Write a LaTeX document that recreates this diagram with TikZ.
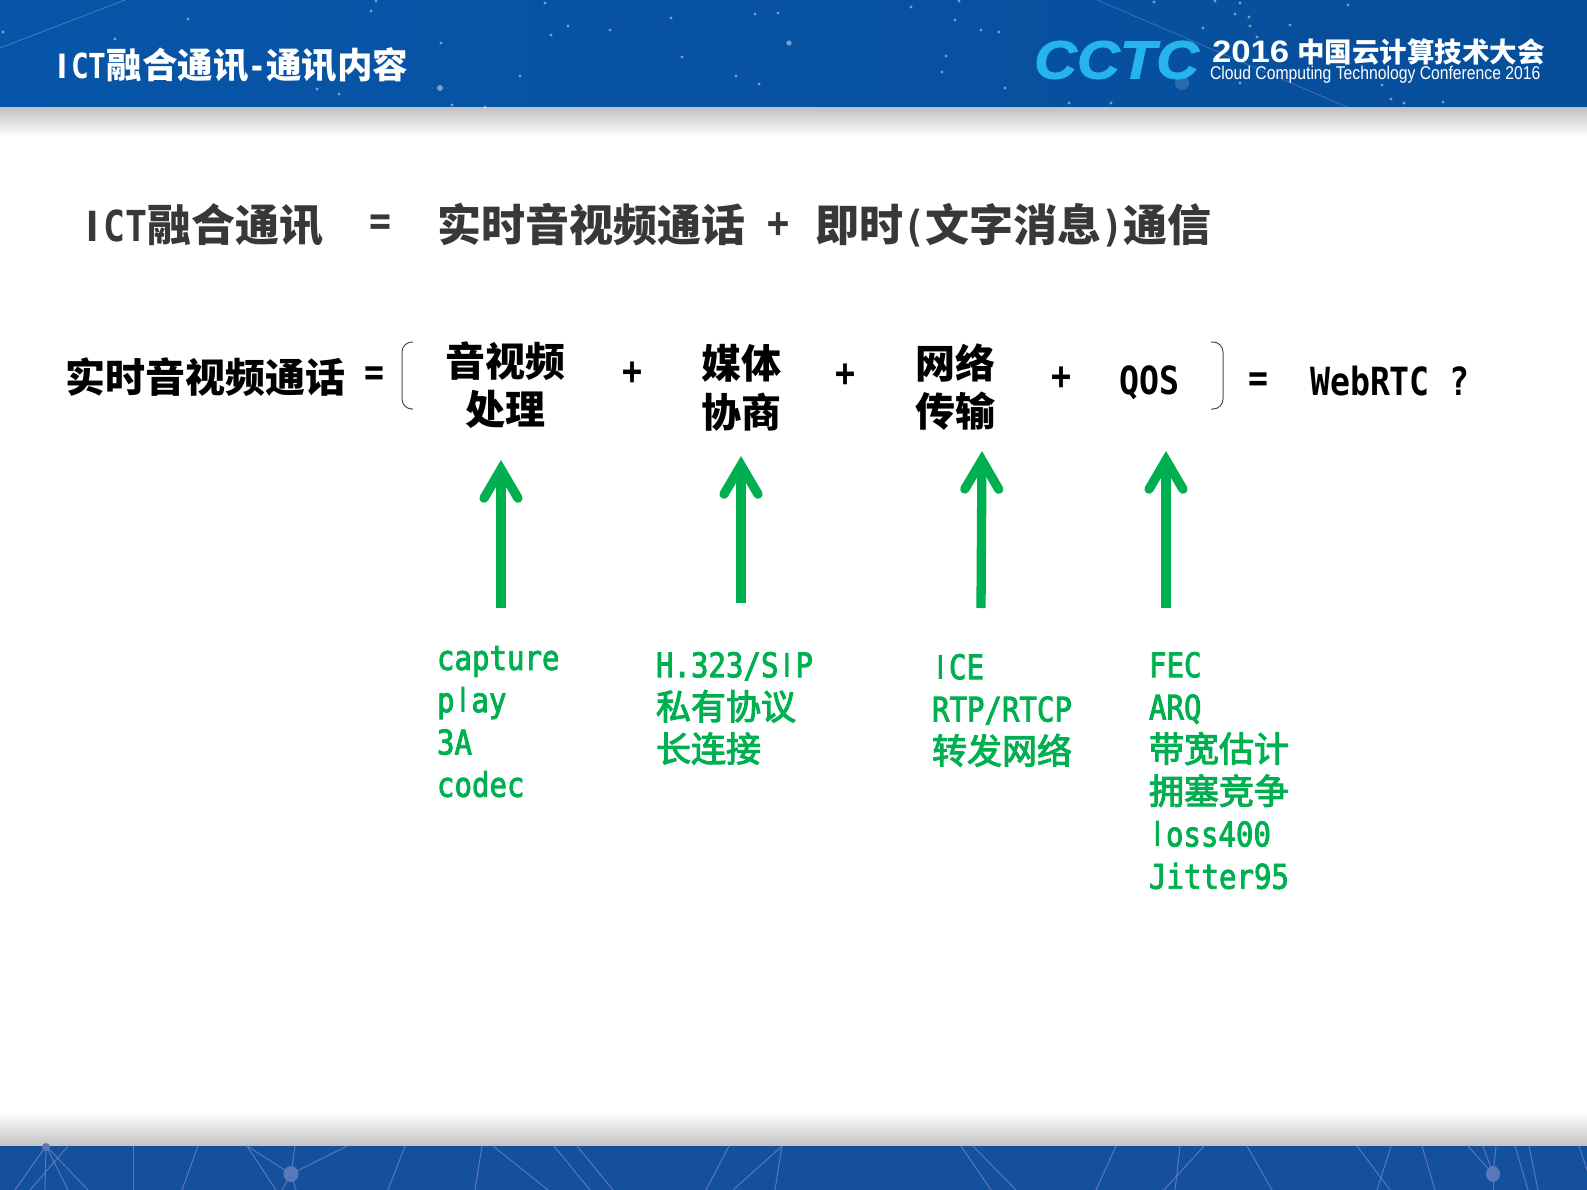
\documentclass[tikz,border=0pt]{standalone}
\usepackage{fontspec}
\setmainfont{DejaVu Sans Mono}[Scale=0.97,FakeStretch=0.856]
\newfontfamily\latm{DejaVu Sans Mono}[Scale=0.97,FakeStretch=0.856,FakeBold=2.5]
\newfontfamily\cjk{Noto Sans CJK SC}
\newfontfamily\cjkm{Noto Sans CJK SC}[FakeBold=3]
\newfontfamily\logofont{Liberation Sans}
\newfontfamily\cctcfont{Liberation Sans}[FakeStretch=1.1,FakeBold=1.5]
\newfontfamily\yearfont{Liberation Sans}[FakeStretch=1.12]
\newfontfamily\conffont{Liberation Sans}[FakeStretch=0.85]
\newcommand{\zh}[1]{{\cjk #1}}
\newcommand{\zm}[1]{{\cjkm #1}}
\newcommand{\plainc}[1]{\makebox[.5em]{\logofont #1}}
\usetikzlibrary{arrows.meta,shadings}
\definecolor{bandblue}{HTML}{0755A8}
\definecolor{footblue}{HTML}{14509C}
\definecolor{arrowgreen}{HTML}{00B050}
\definecolor{logoblue}{HTML}{25B4EC}
\definecolor{netline}{HTML}{5A78B8}
\begin{document}
\begin{tikzpicture}[x=1pt,y=-1pt]

                    \tikzset{txt/.style = {inner sep=0pt,outer sep=0pt,anchor=west}}
                    \tikzset{headline/.style = {txt,text=white,font=\fontsize{35.5}{40}\selectfont\bfseries}}
                    \tikzset{formula/.style = {txt,text=black!78,font=\fontsize{44}{52}\selectfont\bfseries}}
                    \tikzset{term/.style = {txt,anchor=center,align=center,text=black,font=\fontsize{40}{48.5}\selectfont\bfseries}}
                    \tikzset{sublist/.style = {txt,anchor=north west,align=left,text=arrowgreen,font=\latm\fontsize{35}{42.3}\selectfont}}
                    \tikzset{uparrow/.style = {draw=arrowgreen,line width=9.3pt,-{Straight Barb[length=29pt,width=34pt,line cap=round]}}}
                    \tikzset{brk/.style = {draw=black!70,line width=1pt,rounded corners=10pt}}
                    \tikzset{star/.style = {fill=white,opacity=0.45}}

                    \useasboundingbox (0,0) rectangle (1587,1190);
                    \fill[white] (0,0) rectangle (1587,1190);
                    \fill[left color=bandblue,right color=bandblue!92!black] (0,0) rectangle (1587,108);
                    \fill[top color=black!24,bottom color=white] (0,108) rectangle (1587,136);
                    \fill[top color=white,bottom color=black!24] (0,1112) rectangle (1587,1146);
                    \fill[footblue] (0,1146) rectangle (1587,1190);

                    \foreach \px/\py in {376/1,545/3,371/11,188/19,671/18,755/14,778/13,568/26,551/35,610/30,3/32,115/39,441/43,682/57,520/76,736/76,759/84,317/89,339/94,452/105,485/107,171/73,959/1,1154/2,1215/1,1240/3,1348/5,911/7,955/20,1235/14,1249/17,1250/26,1290/25,981/30,999/32,1203/28,1257/37,946/56,942/72,1005/88,1240/83,1382/85,1069/103,1111/103,1391/99,1404/103,1443/102}
                        \fill[star] (\px,\py) circle (1.6pt);
                    \fill[star] (789,43) circle (2.6pt);
                    \fill[star] (440,88) circle (3pt);
                    \fill[star,opacity=0.15] (1182,83) circle (7pt);
                    \draw[white,opacity=0.25,line width=0.8pt] (0,48) -- (125,0);
                    \draw[white,opacity=0.2,line width=0.8pt] (1097,0) -- (1347,107);

                    \foreach \ax/\ay/\bx/\by in {46/1146/15/1190,68/1146/30/1190,46/1146/88/1190,46/1146/68/1190,46/1146/45/1190,133/1146/133/1190,198/1146/182/1190,291/1174/247/1146,291/1174/347/1146,291/1174/295/1146,291/1174/296/1190,291/1174/282/1190,247/1146/276/1190,405/1146/388/1190,482/1146/475/1190,493/1146/548/1190,554/1146/590/1190,577/1146/613/1190,729/1146/706/1190,782/1146/733/1190,782/1146/775/1190,961/1146/991/1190,973/1146/1016/1190,1116/1146/1096/1190,1180/1146/1175/1190,1204/1146/1164/1190,1247/1146/1272/1190,1357/1146/1390/1190,1391/1146/1377/1190,1422/1146/1435/1190,1468/1146/1493/1174,1483/1146/1493/1174,1496/1146/1493/1174,1493/1174/1493/1190,1515/1146/1528/1190,1529/1146/1538/1190,1579/1146/1587/1170}
                        \draw[netline,line width=1pt] (\ax,\ay) -- (\bx,\by);
                    \fill[netline] (46,1147) circle (4pt);
                    \fill[netline] (291,1174) ellipse (7.5pt and 8pt);
                    \fill[netline] (1493,1174) ellipse (7pt and 8pt);

                    \node[headline] (title) at (54,65) {\plainc{I}CT\zh{融合通讯}-\zh{通讯内容}};

                    \node[txt,text=logoblue,font=\cctcfont\fontsize{54}{60}\selectfont\bfseries\itshape] (logo) at (1034,60) {CCTC};
                    \node[txt,text=white,font=\yearfont\fontsize{31}{36}\selectfont\bfseries] (year) at (1212,52) {2016};
                    \node[txt,text=white,font=\fontsize{27.5}{36}\selectfont\bfseries] (conf) at (1297,52) {\zh{中国云计算技术大会}};
                    \node[txt,text=white,font=\conffont\fontsize{18.5}{20}\selectfont] (confen) at (1210,75) {Cloud Computing Technology Conference 2016};

                    \node[formula] (ict) at (82,225) {\plainc{I}CT\zh{融合通讯}};
                    \node[formula] (eqa) at (369,225) {=};
                    \node[formula] (rtc) at (437,225) {\zh{实时音视频通话}};
                    \node[formula] (plusa) at (767,225) {+};
                    \node[formula] (im) at (815,225) {\zh{即时}(\zh{文字消息})\zh{通信}};

                    \node[term,anchor=west] (rtcb) at (65,377) {\zh{实时音视频通话}};
                    \node[term] (eqb) at (374,376) {=};
                    \node[term] (av) at (505,385) {\zh{音视频}\\\zh{处理}};
                    \node[term] (plusb) at (632,373) {+};
                    \node[term] (media) at (741,388) {\zh{媒体}\\\zh{协商}};
                    \node[term] (plusc) at (845,375) {+};
                    \node[term] (net) at (955,387) {\zh{网络}\\\zh{传输}};
                    \node[term] (plusd) at (1061,378) {+};
                    \node[term] (qos) at (1149,383) {QOS};
                    \node[term] (eqc) at (1258,382) {=};
                    \node[term,anchor=west] (webrtc) at (1310,381) {WebRTC ?};

                    \draw[brk] (413,342) -- (402,342) -- (402,409) -- (413,409);
                    \draw[brk] (1211,342) -- (1223,342) -- (1223,409) -- (1211,409);

                    \coordinate (a1) at (501,608);
                    \coordinate (b1) at (501,460);
                    \coordinate (a2) at (741,603);
                    \coordinate (b2) at (741,456);
                    \coordinate (a3) at (981,608);
                    \coordinate (b3) at (982,451);
                    \coordinate (a4) at (1166,608);
                    \coordinate (b4) at (1166,451);
                    \draw[uparrow] (a1) to (b1);
                    \draw[uparrow] (a2) to (b2);
                    \draw[uparrow] (a3) to (b3);
                    \draw[uparrow] (a4) to (b4);

                    \node[sublist] (cap) at (437,646) {capture\\p\plainc{l}ay\\3A\\codec};
                    \node[sublist] (sig) at (656,652) {H.323/S\plainc{I}P\\\zm{私有协议}\\\zm{长连接}};
                    \node[sublist] (ice) at (932,654) {\plainc{I}CE\\RTP/RTCP\\\zm{转发网络}};
                    \node[sublist] (qosl) at (1149,652) {FEC\\ARQ\\\zm{带宽估计}\\\zm{拥塞竞争}\\\plainc{l}oss400\\Jitter95};

                \end{tikzpicture}
\end{document}
